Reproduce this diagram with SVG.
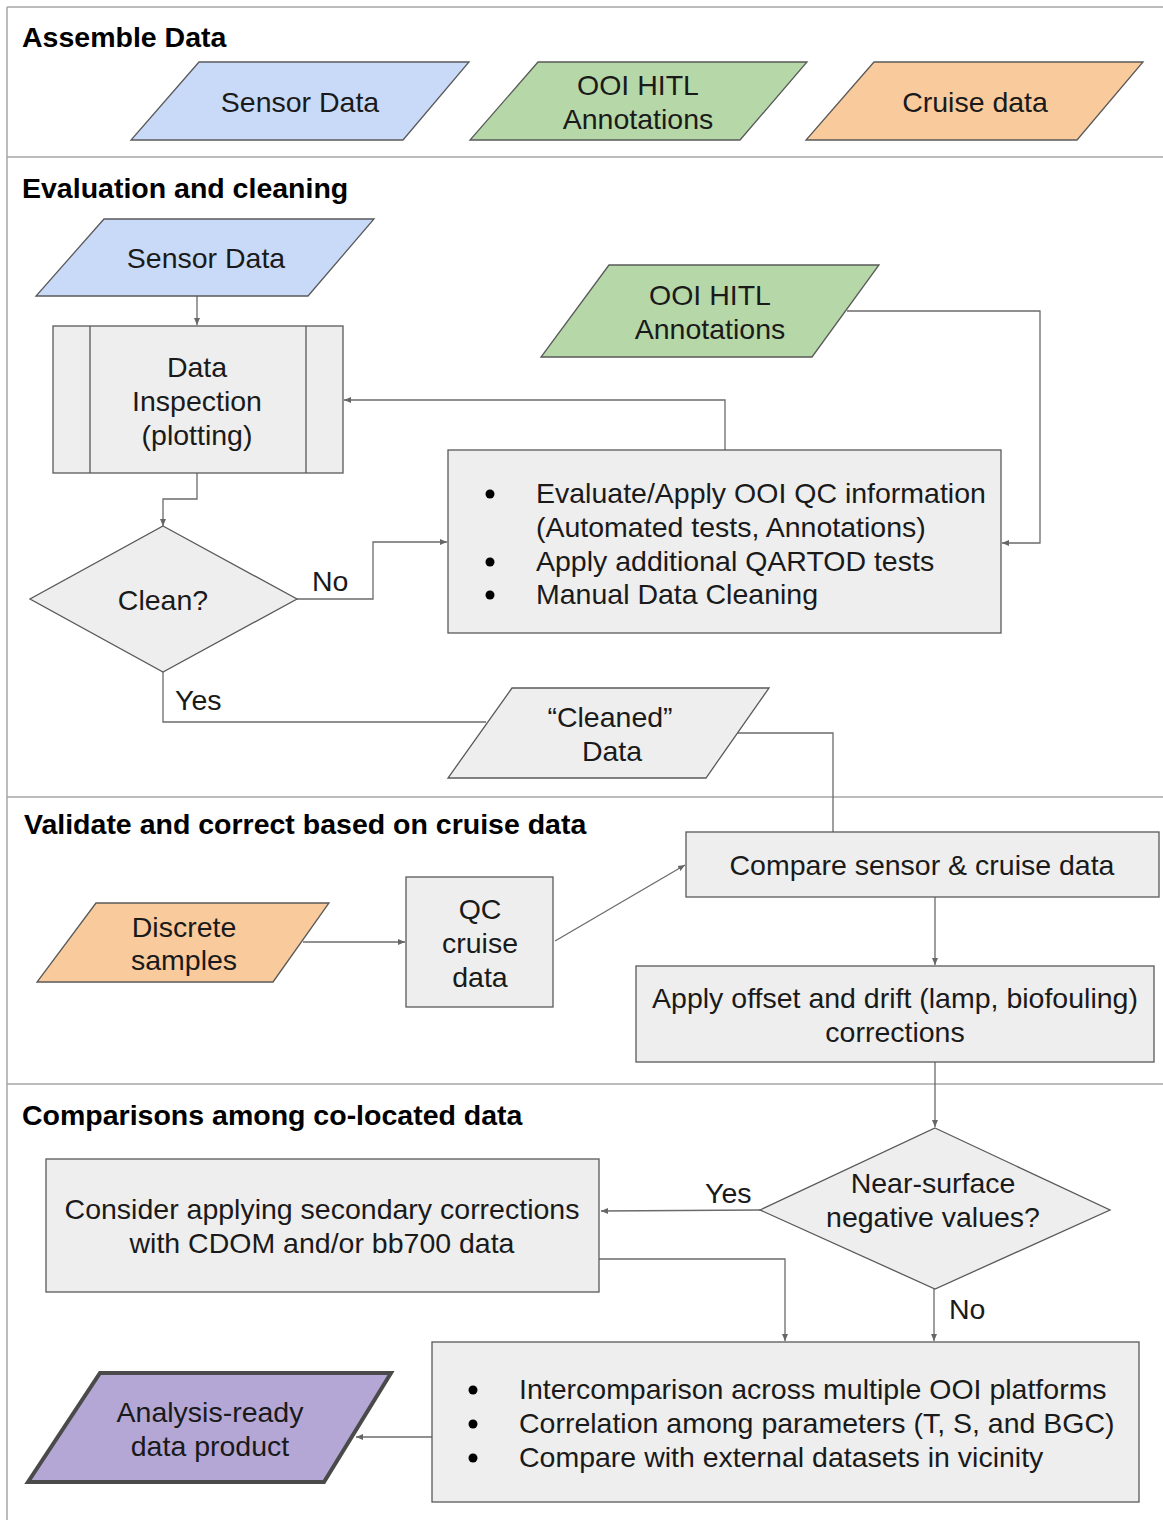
<svg xmlns="http://www.w3.org/2000/svg" width="1163" height="1520" viewBox="0 0 1163 1520">
<defs>
<marker id="arr" markerWidth="8" markerHeight="8" refX="7" refY="4" orient="auto" markerUnits="userSpaceOnUse">
<path d="M0,1 L7,4 L0,7 Z" fill="#666666"/>
</marker>
<style>
text{font-family:"Liberation Sans",Arial,sans-serif;font-size:28.5px;fill:#1a1a1a}
.h{font-weight:bold;fill:#000}
.c{text-anchor:middle}
.frame{fill:none;stroke:#a6a6a6;stroke-width:1.5}
.shp{stroke:#595959;stroke-width:1.3}
.blue{fill:#c9daf8}
.green{fill:#b6d7a8}
.orange{fill:#f9cb9c}
.gray{fill:#eeeeee}
.purple{fill:#b4a7d6;stroke:#4a4a4a;stroke-width:4}
.con{fill:none;stroke:#6b6b6b;stroke-width:1.3}
.bul{fill:#000}
</style>
</defs>
<rect width="1163" height="1520" fill="#ffffff"/>
<g id="frame">
<line class="frame" x1="7" y1="7" x2="1163" y2="7"/>
<line class="frame" x1="7" y1="7" x2="7" y2="1520"/>
<line class="frame" x1="7" y1="157" x2="1163" y2="157"/>
<line class="frame" x1="7" y1="797" x2="1163" y2="797"/>
<line class="frame" x1="7" y1="1084" x2="1163" y2="1084" stroke-width="3" stroke="#999999"/>
<text class="h" x="22" y="47">Assemble Data</text>
<text class="h" x="22" y="198">Evaluation and cleaning</text>
<text class="h" x="24" y="834">Validate and correct based on cruise data</text>
<text class="h" x="22" y="1125">Comparisons among co-located data</text>
</g>
<g id="connectors">
<polyline class="con" points="197,296 197,325" marker-end="url(#arr)"/>
<polyline class="con" points="197,473 197,499 163,499 163,526" marker-end="url(#arr)"/>
<polyline class="con" points="297,599 373,599 373,542 447,542" marker-end="url(#arr)"/>
<polyline class="con" points="725,450 725,400 344,400" marker-end="url(#arr)"/>
<polyline class="con" points="847,311 1040,311 1040,543 1002,543" marker-end="url(#arr)"/>
<polyline class="con" points="163,672 163,722 486,722"/>
<polyline class="con" points="738,733 833,733 833,832"/>
<polyline class="con" points="303,942 405,942" marker-end="url(#arr)"/>
<polyline class="con" points="555,941 685,865" marker-end="url(#arr)"/>
<polyline class="con" points="935,897 935,965" marker-end="url(#arr)"/>
<polyline class="con" points="935,1062 935,1127" marker-end="url(#arr)"/>
<polyline class="con" points="760,1210 601,1211" marker-end="url(#arr)"/>
<polyline class="con" points="599,1259 785,1259 785,1341" marker-end="url(#arr)"/>
<polyline class="con" points="934,1289 934,1341" marker-end="url(#arr)"/>
<polyline class="con" points="432,1437 356,1437" marker-end="url(#arr)"/>
<text x="312" y="591">No</text>
<text x="175" y="710">Yes</text>
<text x="705" y="1203">Yes</text>
<text x="949" y="1319">No</text>
</g>
<g id="sensor1">
<polygon class="shp blue" points="199,62 469,62 403,140 131,140"/>
<text class="c" x="300" y="112">Sensor Data</text>
</g>
<g id="hitl1">
<polygon class="shp green" points="538,62 807,62 740,140 470,140"/>
<text class="c" x="638" y="95">OOI HITL</text>
<text class="c" x="638" y="129">Annotations</text>
</g>
<g id="cruise1">
<polygon class="shp orange" points="874,62 1143,62 1077,140 806,140"/>
<text class="c" x="975" y="112">Cruise data</text>
</g>
<g id="sensor2">
<polygon class="shp blue" points="104,219 374,219 308,296 36,296"/>
<text class="c" x="206" y="268">Sensor Data</text>
</g>
<g id="inspection">
<rect class="shp gray" x="53" y="326" width="290" height="147"/>
<line class="shp" x1="90" y1="326" x2="90" y2="473"/>
<line class="shp" x1="306" y1="326" x2="306" y2="473"/>
<text class="c" x="197" y="377">Data</text>
<text class="c" x="197" y="411">Inspection</text>
<text class="c" x="197" y="445">(plotting)</text>
</g>
<g id="hitl2">
<polygon class="shp green" points="609,265 879,265 812,357 541,357"/>
<text class="c" x="710" y="305">OOI HITL</text>
<text class="c" x="710" y="339">Annotations</text>
</g>
<g id="evaluate">
<rect class="shp gray" x="448" y="450" width="553" height="183"/>
<circle class="bul" cx="490" cy="494" r="4.5"/>
<circle class="bul" cx="490" cy="562" r="4.5"/>
<circle class="bul" cx="490" cy="595" r="4.5"/>
<text x="536" y="503">Evaluate/Apply OOI QC information</text>
<text x="536" y="537">(Automated tests, Annotations)</text>
<text x="536" y="571">Apply additional QARTOD tests</text>
<text x="536" y="604">Manual Data Cleaning</text>
</g>
<g id="clean">
<polygon class="shp gray" points="163,526 297,599 163,672 30,599"/>
<text class="c" x="163" y="610">Clean?</text>
</g>
<g id="cleaned">
<polygon class="shp gray" points="512,688 769,688 706,778 448,778"/>
<text class="c" x="610" y="727">“Cleaned”</text>
<text class="c" x="612" y="761">Data</text>
</g>
<g id="discrete">
<polygon class="shp orange" points="96,903 329,903 273,982 37,982"/>
<text class="c" x="184" y="937">Discrete</text>
<text class="c" x="184" y="970">samples</text>
</g>
<g id="qc">
<rect class="shp gray" x="406" y="877" width="147" height="130"/>
<text class="c" x="480" y="919">QC</text>
<text class="c" x="480" y="953">cruise</text>
<text class="c" x="480" y="987">data</text>
</g>
<g id="compare">
<rect class="shp gray" x="686" y="832" width="473" height="65"/>
<text class="c" x="922" y="875">Compare sensor &amp; cruise data</text>
</g>
<g id="offset">
<rect class="shp gray" x="636" y="966" width="518" height="96"/>
<text class="c" x="895" y="1008">Apply offset and drift (lamp, biofouling)</text>
<text class="c" x="895" y="1042">corrections</text>
</g>
<g id="nearsurface">
<polygon class="shp gray" points="935,1128 1110,1210 935,1289 760,1210"/>
<text class="c" x="933" y="1193">Near-surface</text>
<text class="c" x="933" y="1227">negative values?</text>
</g>
<g id="consider">
<rect class="shp gray" x="46" y="1159" width="553" height="133"/>
<text class="c" x="322" y="1219">Consider applying secondary corrections</text>
<text class="c" x="322" y="1253">with CDOM and/or bb700 data</text>
</g>
<g id="intercomparison">
<rect class="shp gray" x="432" y="1342" width="707" height="160"/>
<circle class="bul" cx="473" cy="1390" r="4.5"/>
<circle class="bul" cx="473" cy="1424" r="4.5"/>
<circle class="bul" cx="473" cy="1458" r="4.5"/>
<text x="519" y="1399">Intercomparison across multiple OOI platforms</text>
<text x="519" y="1433">Correlation among parameters (T, S, and BGC)</text>
<text x="519" y="1467">Compare with external datasets in vicinity</text>
</g>
<g id="analysis">
<polygon class="purple" points="100,1373 391,1373 324,1482 28,1482"/>
<text class="c" x="210" y="1422">Analysis-ready</text>
<text class="c" x="210" y="1456">data product</text>
</g>
</svg>
